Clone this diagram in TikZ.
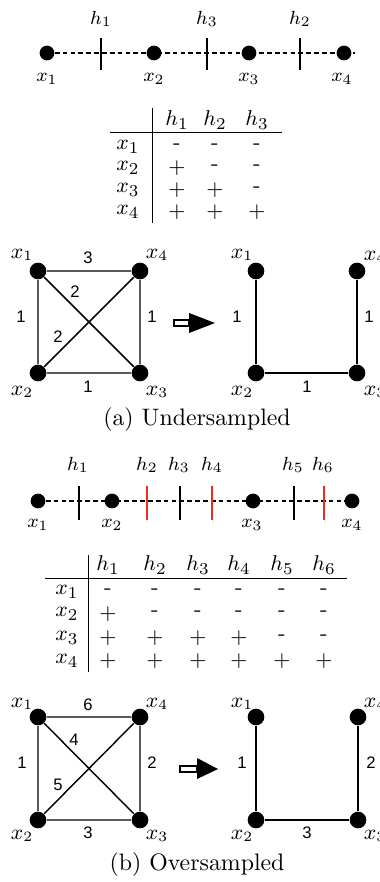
\documentclass[tikz,border=0pt]{standalone}
\usepackage{fontspec}
\newfontfamily\numfont{Liberation Sans}
\definecolor{hred}{RGB}{235,45,25}
\begin{document}
\begin{tikzpicture}[x=0.42pt,y=-0.42pt,
 dot/.style={circle,fill=black,inner sep=0pt,minimum size=6.2pt},
 gdot/.style={circle,fill=black,inner sep=0pt,minimum size=7pt},
 lbl/.style={inner sep=0pt,font=\fontsize{8.5}{10}\selectfont},
 tlbl/.style={inner sep=0pt,font=\fontsize{9.5}{11}\selectfont},
 glbl/.style={inner sep=0pt,font=\fontsize{9}{11}\selectfont},
 num/.style={inner sep=0pt,font=\numfont\fontsize{7}{8}\selectfont},
 captxt/.style={inner sep=0pt,font=\fontsize{10}{12}\selectfont},
 dline/.style={dash pattern=on 2pt off 1.3pt,line width=0.45pt},
 tickline/.style={line width=0.75pt},
 rtick/.style={line width=1.2pt,draw=hred},
 gedge/.style={line width=0.6pt},
 tabrule/.style={line width=0.4pt}]
\useasboundingbox (0,0) rectangle (380,882);

% ---------- (a) line ----------
\coordinate (aend) at (355,53);
\draw[dline] (47,53) -- (aend);
\node[dot] (a1) at (47,53) {};
\node[dot] (a2) at (154,53) {};
\node[dot] (a3) at (249,53) {};
\node[dot] (a4) at (344,53) {};
\draw[tickline] (101,38) -- (101,70);
\draw[tickline] (207,38) -- (207,70);
\draw[tickline] (300,38) -- (300,70);
\node[lbl] (ah1) at (101,19) {$h_1$};
\node[lbl] (ah3) at (207,19) {$h_3$};
\node[lbl] (ah2) at (300,19) {$h_2$};
\node[lbl] (ax1) at (47,79) {$x_1$};
\node[lbl] (ax2) at (154,79) {$x_2$};
\node[lbl] (ax3) at (249,79) {$x_3$};
\node[lbl] (ax4) at (342,79) {$x_4$};

% ---------- (a) table ----------
\draw[tabrule] (152,108) -- (152,223);
\draw[tabrule] (110,132) -- (282,132);
\foreach \c/\x in {1/177,2/215,3/257}
  \node[tlbl] (ta-h\c) at (\x,120) {$h_\c$};
\foreach \r/\y in {1/147,2/168,3/190,4/212}
  \node[tlbl] (ta-x\r) at (128,\y) {$x_\r$};
\foreach \r/\y/\va/\vb/\vc in {1/147/-/-/-,2/168/+/-/-,3/190/+/+/-,4/212/+/+/+}{
  \node[tlbl] (ta-\r-1) at (177,\y) {\if+\va$+$\else-\fi};
  \node[tlbl] (ta-\r-2) at (215,\y) {\if+\vb$+$\else-\fi};
  \node[tlbl] (ta-\r-3) at (257,\y) {\if+\vc$+$\else-\fi};
}

% ---------- (a) graphs ----------
\node[gdot] (ga1) at (38,271) {};
\node[gdot] (ga4) at (140,271) {};
\node[gdot] (ga2) at (38,373) {};
\node[gdot] (ga3) at (140,373) {};
\draw[gedge] (ga1) -- (ga4) (ga1) -- (ga2) (ga4) -- (ga3) (ga2) -- (ga3) (ga1) -- (ga3) (ga2) -- (ga4);
\node[glbl] (gla1) at (22,255) {$x_1$};
\node[glbl] (gla4) at (157,255) {$x_4$};
\node[glbl] (gla2) at (22,392) {$x_2$};
\node[glbl] (gla3) at (157,392) {$x_3$};
\node[num] (na14) at (88,258) {3};
\node[num] (na12) at (21,317) {1};
\node[num] (na43) at (152,317) {1};
\node[num] (na23) at (88,387) {1};
\node[num] (na13) at (75,292) {2};
\node[num] (na24) at (58,337) {2};

\draw[line width=0.5pt,fill=white] (174,320) rectangle (189,326);
\fill (189,313) -- (215,323) -- (189,333) -- cycle;

\node[gdot] (ra1) at (256,271) {};
\node[gdot] (ra4) at (357,271) {};
\node[gdot] (ra2) at (256,373) {};
\node[gdot] (ra3) at (357,373) {};
\draw[gedge] (ra1) -- (ra2) -- (ra3) -- (ra4);
\node[glbl] (rla1) at (242,255) {$x_1$};
\node[glbl] (rla4) at (375,257) {$x_4$};
\node[glbl] (rla2) at (242,392) {$x_2$};
\node[glbl] (rla3) at (375,392) {$x_3$};
\node[num] (rna12) at (237,317) {1};
\node[num] (rna43) at (369,317) {1};
\node[num] (rna23) at (307,387) {1};

\node[captxt] (capa) at (197,420) {(a) Undersampled};

% ---------- (b) line ----------
\coordinate (bend) at (358,501);
\draw[dline] (38,501) -- (bend);
\node[dot] (b1) at (38,501) {};
\node[dot] (b2) at (112,501) {};
\node[dot] (b3) at (253,501) {};
\node[dot] (b4) at (352,501) {};
\draw[tickline] (79,486) -- (79,520);
\draw[tickline] (180,486) -- (180,520);
\draw[tickline] (294,486) -- (294,520);
\draw[rtick] (147,486) -- (147,520);
\draw[rtick] (212,486) -- (212,520);
\draw[rtick] (324,486) -- (324,520);
\foreach \i/\x in {1/78,2/147,3/179,4/212,5/293,6/323}
  \node[lbl] (bh\i) at (\x,465) {$h_\i$};
\node[lbl] (bx1) at (38,525) {$x_1$};
\node[lbl] (bx2) at (112,525) {$x_2$};
\node[lbl] (bx3) at (252,525) {$x_3$};
\node[lbl] (bx4) at (352,525) {$x_4$};

% ---------- (b) table ----------
\draw[tabrule] (88,555) -- (88,672);
\draw[tabrule] (45,578) -- (347,578);
\foreach \c/\x in {1/108,2/155,3/198,4/239,5/282,6/324}
  \node[tlbl] (tb-h\c) at (\x,565) {$h_\c$};
\foreach \r/\y in {1/592,2/614,3/638,4/661}
  \node[tlbl] (tb-x\r) at (67,\y) {$x_\r$};
\foreach \c/\x in {1/108,2/155,3/198,4/239,5/282,6/324}{
  \node[tlbl] (tb-1-\c) at (\x,592) {-};
  \node[tlbl] (tb-4-\c) at (\x,661) {$+$};
}
\node[tlbl] (tb-2-1) at (108,614) {$+$};
\foreach \c/\x in {2/155,3/198,4/239,5/282,6/324}
  \node[tlbl] (tb-2-\c) at (\x,614) {-};
\foreach \c/\x in {1/108,2/155,3/198,4/239}
  \node[tlbl] (tb-3-\c) at (\x,638) {$+$};
\foreach \c/\x in {5/282,6/324}
  \node[tlbl] (tb-3-\c) at (\x,638) {-};

% ---------- (b) graphs ----------
\node[gdot] (gb1) at (38,717) {};
\node[gdot] (gb4) at (140,717) {};
\node[gdot] (gb2) at (38,820) {};
\node[gdot] (gb3) at (140,820) {};
\draw[gedge] (gb1) -- (gb4) (gb1) -- (gb2) (gb4) -- (gb3) (gb2) -- (gb3) (gb1) -- (gb3) (gb2) -- (gb4);
\node[glbl] (glb1) at (22,704) {$x_1$};
\node[glbl] (glb4) at (157,704) {$x_4$};
\node[glbl] (glb2) at (22,836) {$x_2$};
\node[glbl] (glb3) at (157,836) {$x_3$};
\node[num] (nb14) at (88,705) {6};
\node[num] (nb12) at (22,763) {1};
\node[num] (nb43) at (152,763) {2};
\node[num] (nb23) at (88,833) {3};
\node[num] (nb13) at (74,740) {4};
\node[num] (nb24) at (58,785) {5};

\draw[line width=0.5pt,fill=white] (180,766) rectangle (197,772);
\fill (197,758) -- (218,769) -- (197,779) -- cycle;

\node[gdot] (rb1) at (256,717) {};
\node[gdot] (rb4) at (358,717) {};
\node[gdot] (rb2) at (256,820) {};
\node[gdot] (rb3) at (358,820) {};
\draw[gedge] (rb1) -- (rb2) -- (rb3) -- (rb4);
\node[glbl] (rlb1) at (242,704) {$x_1$};
\node[glbl] (rlb4) at (375,704) {$x_4$};
\node[glbl] (rlb2) at (242,836) {$x_2$};
\node[glbl] (rlb3) at (375,836) {$x_3$};
\node[num] (rnb12) at (242,763) {1};
\node[num] (rnb43) at (371,763) {2};
\node[num] (rnb23) at (307,833) {3};

\node[captxt] (capb) at (197,865) {(b) Oversampled};
\end{tikzpicture}
\end{document}
